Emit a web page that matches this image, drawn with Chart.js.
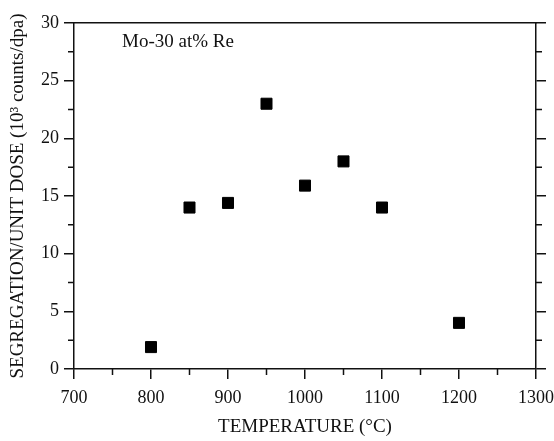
<!DOCTYPE html>
<html>
<head>
<meta charset="utf-8">
<script src="https://cdn.jsdelivr.net/npm/chart.js@4/dist/chart.umd.min.js"></script>
<style>
  html, body { margin: 0; padding: 0; background: #fff; }
  #wrap { width: 554px; height: 441px; }
</style>
</head>
<body>
<div id="wrap"><canvas id="segChart"></canvas></div>
<script>
const temperatures = [800, 850, 900, 950, 1000, 1050, 1100, 1200];
const segregation = [1.9, 14.0, 14.4, 23.0, 15.9, 18.0, 14.0, 4.0];

const xTickLabels = [700, 800, 900, 1000, 1100, 1200, 1300];
const yTickLabels = [0, 5, 10, 15, 20, 25, 30];
const xMinorTicks = [750, 850, 950, 1050, 1150, 1250];
const yMinorTicks = [2.5, 7.5, 12.5, 17.5, 22.5, 27.5];

const serif = "'Liberation Serif', 'Times New Roman', serif";
const ink = "#111";

function setTicks(values) {
    return function (scale) {
        scale.ticks = values.map(v => ({ value: v }));
    };
}

// minor tick marks plus the inset label
const extras = {
    id: "extras",
    afterDraw(chart) {
        const ctx = chart.ctx;
        const area = chart.chartArea;
        const x = chart.scales.x;
        const y = chart.scales.y;
        ctx.save();
        ctx.strokeStyle = ink;
        ctx.lineWidth = 1.5;
        ctx.beginPath();
        xMinorTicks.forEach(v => {
            const px = x.getPixelForValue(v);
            ctx.moveTo(px, area.bottom);
            ctx.lineTo(px, area.bottom + 6);
        });
        yMinorTicks.forEach(v => {
            const py = y.getPixelForValue(v);
            ctx.moveTo(area.left, py);
            ctx.lineTo(area.left - 6, py);
            ctx.moveTo(area.right, py);
            ctx.lineTo(area.right + 6, py);
        });
        ctx.stroke();

        ctx.fillStyle = ink;
        ctx.font = "19px " + serif;
        ctx.textBaseline = "alphabetic";
        ctx.fillText("Mo-30 at% Re", area.left + 48, area.top + 24);
        ctx.restore();
    }
};

const axisCommon = {
    border: { display: true, color: ink, width: 1.5 },
    grid: { drawOnChartArea: false, drawTicks: true, tickLength: 10, color: ink, lineWidth: 1.5 }
};

new Chart(document.getElementById("segChart"), {
    type: "scatter",
    data: {
        datasets: [{
            data: temperatures.map((t, i) => ({ x: t, y: segregation[i] })),
            pointStyle: "rect",
            pointRadius: 7.8,
            pointHoverRadius: 7.8,
            backgroundColor: "#000",
            borderColor: "#000",
            borderWidth: 1
        }]
    },
    options: {
        responsive: true,
        maintainAspectRatio: false,
        animation: false,
        layout: { padding: { top: 23, left: 0, right: 0, bottom: 0 } },
        plugins: {
            legend: { display: false },
            tooltip: { enabled: false }
        },
        scales: {
            x: {
                type: "linear",
                position: "bottom",
                min: 700,
                max: 1300,
                afterBuildTicks: setTicks(xTickLabels),
                afterFit: s => {
                    s.height = 72;
                    s.paddingLeft = 0;
                    s.paddingRight = 0;
                },
                ticks: {
                    color: ink,
                    font: { family: serif, size: 18 },
                    padding: 8,
                    callback: v => String(v)
                },
                title: {
                    display: true,
                    text: "TEMPERATURE (°C)",
                    color: ink,
                    font: { family: serif, size: 19 },
                    padding: { top: 0, bottom: 3 }
                },
                ...axisCommon
            },
            x2: {
                type: "linear",
                position: "top",
                min: 700,
                max: 1300,
                afterFit: s => { s.height = 0; },
                ticks: { display: false },
                border: { display: true, color: ink, width: 1.5 },
                grid: { display: false, drawTicks: false }
            },
            y: {
                type: "linear",
                position: "left",
                min: 0,
                max: 30,
                afterBuildTicks: setTicks(yTickLabels),
                afterFit: s => { s.width = 74; },
                ticks: { color: ink, font: { family: serif, size: 18 }, padding: 5 },
                title: {
                    display: true,
                    text: "SEGREGATION/UNIT DOSE (10³ counts/dpa)",
                    color: ink,
                    font: { family: serif, size: 19 },
                    padding: { top: 7, bottom: 0 }
                },
                ...axisCommon
            },
            y2: {
                type: "linear",
                position: "right",
                min: 0,
                max: 30,
                afterBuildTicks: setTicks(yTickLabels),
                afterFit: s => { s.width = 18; },
                ticks: { display: false },
                ...axisCommon
            }
        }
    },
    plugins: [extras]
});
</script>
</body>
</html>
